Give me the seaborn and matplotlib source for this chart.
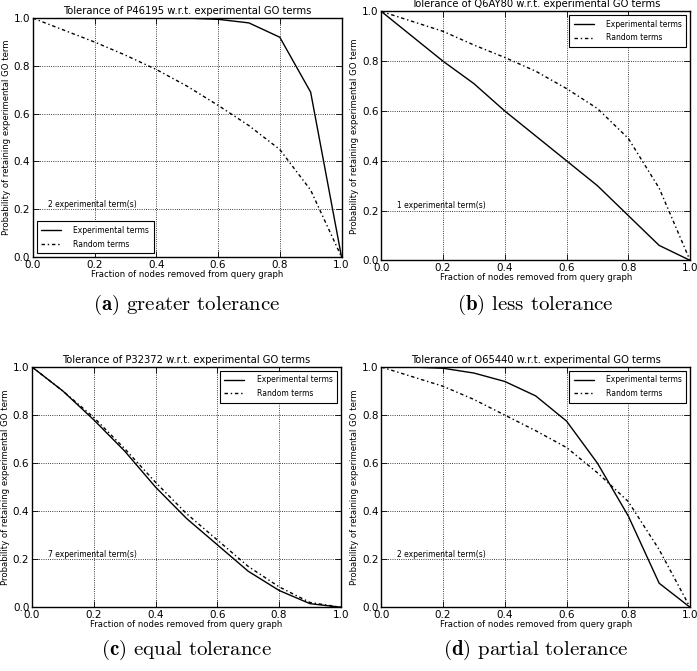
import numpy as np
import pandas as pd
import seaborn as sns
import matplotlib.pyplot as plt

# --- data ---
fraction = [0.0, 0.1, 0.2, 0.3, 0.4, 0.5, 0.6, 0.7, 0.8, 0.9, 1.0]

proteins = ["P46195", "Q6AY80", "P32372", "O65440"]
n_terms = [2, 1, 7, 2]
captions = ["greater tolerance", "less tolerance", "equal tolerance", "partial tolerance"]
letters = ["a", "b", "c", "d"]

exp_a = [1.0, 1.0, 1.0, 1.0, 1.0, 1.0, 0.995, 0.98, 0.92, 0.69, 0.0]
rnd_a = [1.0, 0.95, 0.90, 0.845, 0.785, 0.715, 0.635, 0.55, 0.45, 0.28, 0.0]

exp_b = [1.0, 0.9, 0.8, 0.71, 0.6, 0.5, 0.4, 0.3, 0.18, 0.06, 0.0]
rnd_b = [1.0, 0.96, 0.92, 0.865, 0.815, 0.76, 0.69, 0.61, 0.49, 0.29, 0.0]

exp_c = [1.0, 0.9, 0.78, 0.65, 0.5, 0.37, 0.26, 0.15, 0.07, 0.015, 0.0]
rnd_c = [1.0, 0.9, 0.79, 0.66, 0.52, 0.39, 0.28, 0.17, 0.085, 0.02, 0.0]

exp_d = [1.0, 1.0, 0.995, 0.975, 0.94, 0.88, 0.775, 0.6, 0.38, 0.10, 0.0]
rnd_d = [1.0, 0.96, 0.92, 0.865, 0.80, 0.735, 0.665, 0.56, 0.44, 0.24, 0.0]

experimental = [exp_a, exp_b, exp_c, exp_d]
random_terms = [rnd_a, rnd_b, rnd_c, rnd_d]
legend_loc = ["lower left", "upper right", "upper right", "upper right"]

# --- style ---
sns.set_style("white")
plt.rcParams["font.family"] = ["DejaVu Sans"]
plt.rcParams["xtick.direction"] = "in"
plt.rcParams["ytick.direction"] = "in"
plt.rcParams["text.color"] = "black"
plt.rcParams["axes.labelcolor"] = "black"
plt.rcParams["xtick.color"] = "black"
plt.rcParams["ytick.color"] = "black"

fig = plt.figure(figsize=(6.97, 6.71), dpi=100)

# axes rectangles [left, bottom, width, height] in figure fraction
rects = [
    [0.047, 0.617, 0.443, 0.356],
    [0.547, 0.612, 0.443, 0.371],
    [0.046, 0.095, 0.443, 0.358],
    [0.547, 0.095, 0.443, 0.358],
]
caption_pos = [(0.268, 0.545), (0.768, 0.545), (0.268, 0.031), (0.768, 0.031)]

for i in range(4):
    ax = fig.add_axes(rects[i])
    df = pd.DataFrame({
        "fraction": fraction * 2,
        "prob": experimental[i] + random_terms[i],
        "series": ["Experimental terms"] * 11 + ["Random terms"] * 11,
    })
    sns.lineplot(data=df, x="fraction", y="prob", style="series",
                 dashes={"Experimental terms": "", "Random terms": (2.5, 2, 1, 2)},
                 color="black", linewidth=1.0, ax=ax)

    ax.set_xlim(0, 1)
    ax.set_ylim(0, 1)
    ax.set_xticks(np.arange(0, 1.01, 0.2))
    ax.set_yticks(np.arange(0, 1.01, 0.2))
    ax.tick_params(labelsize=7.5, length=4, width=0.6, bottom=True, left=True,
                   top=True, right=True, pad=2)
    ax.grid(True, color="black", linestyle=":", linewidth=0.6)
    for s in ax.spines.values():
        s.set_color("black")
        s.set_linewidth(1.0)

    ax.set_title(f"Tolerance of {proteins[i]} w.r.t. experimental GO terms",
                 fontsize=7.2, pad=3)
    ax.set_xlabel("Fraction of nodes removed from query graph", fontsize=6.1, labelpad=0)
    ax.set_ylabel("Probability of retaining experimental GO term", fontsize=6.1, labelpad=2)
    ax.text(0.05, 0.21, f"{n_terms[i]} experimental term(s)", fontsize=5.5)

    leg = ax.legend(loc=legend_loc[i], fontsize=5.5, fancybox=False,
                    handlelength=2.6, borderpad=0.6, labelspacing=0.6,
                    handletextpad=1.6, frameon=True)
    leg.get_frame().set_edgecolor("black")
    leg.get_frame().set_linewidth(0.8)
    leg.get_frame().set_alpha(1)

    cx, cy = caption_pos[i]
    fig.text(cx, cy, rf"$\mathbf{{({letters[i]})}}$ {captions[i]}",
             ha="center", va="center", fontsize=15, family="cmr10",
             math_fontfamily="cm")

fig.savefig("out.png", dpi=100)
